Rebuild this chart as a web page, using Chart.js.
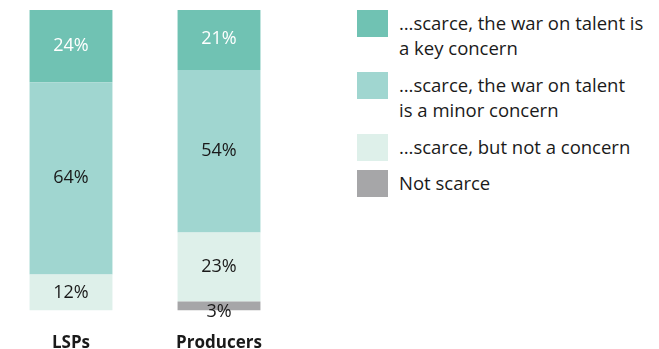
<!DOCTYPE html>
<html>
<head>
<meta charset="utf-8">
<script src="https://cdn.jsdelivr.net/npm/chart.js@4"></script>
<style>
  html, body { margin: 0; padding: 0; background: #fff; }
  body { width: 659px; height: 349px; position: relative; overflow: hidden; font-family: "Open Sans", sans-serif; }
  #chartBox { position: absolute; left: -3px; top: 0; width: 296px; height: 375px; }
  .legend-item { position: absolute; left: 357px; }
  .legend-item .swatch { position: absolute; left: 0; top: 0; width: 31px; height: 27px; }
  .legend-item .text { position: absolute; left: 42px; top: 0; width: 270px; font-size: 18.5px; line-height: 25px; color: #1a1a1a; white-space: nowrap; }
</style>
</head>
<body>
<div id="chartBox"><canvas id="talentChart"></canvas></div>
<div id="legend"></div>
<script>
// categories and series (percent of respondents)
const categories = ['LSPs', 'Producers'];
const seriesNames = ['Not scarce', '…scarce, but not a concern', '…scarce, the war on talent is a minor concern', '…scarce, the war on talent is a key concern'];
const notScarce = [0, 3];
const scarceNoConcern = [12, 23];
const scarceMinor = [64, 54];
const scarceKey = [24, 21];

const colors = ['#a6a6a8', '#def0ea', '#a0d6d0', '#70c2b3'];
const labelColors = ['#1a1a1a', '#1a1a1a', '#1a1a1a', '#ffffff'];

// legend (top to bottom, as in the original)
const legendLines = [
    ['…scarce, the war on talent is', 'a key concern'],
    ['…scarce, the war on talent', 'is a minor concern'],
    ['…scarce, but not a concern'],
    ['Not scarce']
];
const legendTops = [10, 72, 134, 170];
const legendEl = document.getElementById('legend');
legendLines.forEach((lines, i) => {
    const item = document.createElement('div');
    item.className = 'legend-item';
    item.style.top = legendTops[i] + 'px';
    item.innerHTML = '<div class="swatch" style="background:' + colors[3 - i] + '"></div>' +
        '<div class="text">' + lines.join('<br>') + '</div>';
    legendEl.appendChild(item);
});

// value labels inside the segments
const segmentLabels = {
    id: 'segmentLabels',
    afterDatasetsDraw(chart) {
        const ctx = chart.ctx;
        ctx.save();
        ctx.font = '18px "Open Sans"';
        ctx.textAlign = 'center';
        ctx.textBaseline = 'middle';
        chart.data.datasets.forEach((ds, di) => {
            chart.getDatasetMeta(di).data.forEach((bar, i) => {
                const v = ds.data[i];
                if (!v) return;
                const h = bar.base - bar.y;
                const y = h < 12 ? bar.base + 1 : (bar.y + bar.base) / 2;
                ctx.fillStyle = labelColors[di];
                ctx.fillText(v + '%', bar.x, y);
            });
        });
        ctx.restore();
    }
};

const seriesData = [notScarce, scarceNoConcern, scarceMinor, scarceKey];

new Chart(document.getElementById('talentChart'), {
    type: 'bar',
    data: {
        labels: categories,
        datasets: seriesData.map((d, i) => ({
            label: seriesNames[i],
            data: d,
            backgroundColor: colors[i],
            borderWidth: 0,
            categoryPercentage: 0.56,
            barPercentage: 1
        }))
    },
    options: {
        responsive: true,
        maintainAspectRatio: false,
        animation: false,
        layout: { padding: { top: 10, bottom: 0, left: 0, right: 0 } },
        scales: {
            x: {
                stacked: true,
                grid: { display: false, drawTicks: false },
                border: { display: false },
                ticks: { padding: 22, color: '#1a1a1a', font: { family: 'Open Sans', size: 17, weight: 'bold' } }
            },
            y: {
                stacked: true,
                display: false,
                min: 0,
                max: 100
            }
        },
        plugins: {
            legend: { display: false },
            tooltip: { enabled: false }
        }
    },
    plugins: [segmentLabels]
});
</script>
</body>
</html>
